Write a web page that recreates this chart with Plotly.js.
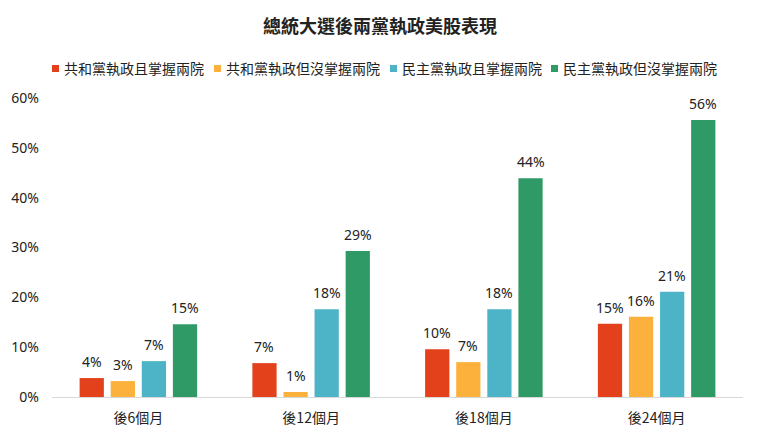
<!DOCTYPE html>
<html>
<head>
<meta charset="utf-8">
<script src="https://cdn.plot.ly/plotly-3.0.1.min.js"></script>
<style>html,body{margin:0;padding:0;background:#fff;}#chart{width:760px;height:441px;}</style>
</head>
<body>
<div id="chart"></div>
<script>
const categories = ['後6個月', '後12個月', '後18個月', '後24個月'];
const seriesNames = ['共和黨執政且掌握兩院', '共和黨執政但沒掌握兩院', '民主黨執政且掌握兩院', '民主黨執政但沒掌握兩院'];
const repBoth = [3.8, 6.8, 9.6, 14.7];
const repSplit = [3.2, 1.0, 7.0, 16.1];
const demBoth = [7.2, 17.6, 17.6, 21.1];
const demSplit = [14.6, 29.3, 43.9, 55.6];
const labels = [
  ['4%', '7%', '10%', '15%'],
  ['3%', '1%', '7%', '16%'],
  ['7%', '18%', '18%', '21%'],
  ['15%', '29%', '44%', '56%']
];
const yTickVals = [0, 10, 20, 30, 40, 50, 60];
const yTickText = ['0%', '10%', '20%', '30%', '40%', '50%', '60%'];
const colors = ['#E2411B', '#FBB13B', '#4DB4C8', '#2F9A66'];

const allValues = [repBoth, repSplit, demBoth, demSplit];
const FONT = '"Noto Sans", "Noto Sans CJK TC", sans-serif';
const CJK = '"Noto Sans CJK TC", "Noto Sans", sans-serif';

// plot area geometry (pixels) used to place the custom legend
const M = {l: 52, r: 17, t: 98, b: 44};
const W = 760, H = 441;
const pw = W - M.l - M.r, ph = H - M.t - M.b;
const px2x = p => (p - M.l) / pw;
const py2y = p => (H - M.b - p) / ph;

const traces = allValues.map((vals, i) => ({
  type: 'bar',
  name: seriesNames[i],
  x: categories,
  y: vals,
  marker: {color: colors[i]},
  hoverinfo: 'none',
  showlegend: false
}));

const slot = 31.2;
const annotations = [];
allValues.forEach((vals, i) => {
  vals.forEach((v, j) => {
    annotations.push({
      x: categories[j], y: v, xref: 'x', yref: 'y',
      text: labels[i][j], showarrow: false,
      yanchor: 'bottom', yshift: 5, xshift: (i - 1.5) * slot,
      font: {family: FONT, size: 14, color: '#222'}
    });
  });
});

// legend (custom, to match the reference spacing)
const legSquareX = [52, 214, 390, 551];
const legY = 68.5;
const shapes = [];
seriesNames.forEach((name, i) => {
  shapes.push({
    type: 'rect', xref: 'paper', yref: 'paper',
    x0: px2x(legSquareX[i]), x1: px2x(legSquareX[i] + 7),
    y0: py2y(legY + 3.5), y1: py2y(legY - 3.5),
    fillcolor: colors[i], line: {width: 0}
  });
  annotations.push({
    xref: 'paper', yref: 'paper', x: px2x(legSquareX[i] + 10), y: py2y(legY),
    xanchor: 'left', yanchor: 'middle', showarrow: false, text: name,
    font: {family: CJK, size: 14, color: '#222'}
  });
});

const layout = {
  width: W, height: H,
  margin: M,
  paper_bgcolor: '#fff', plot_bgcolor: '#fff',
  font: {family: FONT, size: 14, color: '#222'},
  title: {text: '總統大選後兩黨執政美股表現', x: 0.5, xanchor: 'center', y: 0.94, yanchor: 'middle',
          font: {family: CJK, size: 18, color: '#222', weight: 700}},
  barmode: 'group', bargap: 0.28, bargroupgap: 0.22,
  showlegend: false,
  xaxis: {type: 'category', showline: true, linecolor: '#d9d9d9', linewidth: 1, ticks: '',
          showgrid: false, ticklabelstandoff: 8,
          tickfont: {family: CJK, size: 14, color: '#222'}, fixedrange: true},
  yaxis: {range: [0, 60], tickvals: yTickVals, ticktext: yTickText, showgrid: false, zeroline: false,
          showline: false, ticks: '', ticklabelstandoff: 12, tickfont: {size: 14, color: '#222'}, fixedrange: true},
  shapes: shapes,
  annotations: annotations
};

Plotly.newPlot('chart', traces, layout, {displayModeBar: false, staticPlot: true});
</script>
</body>
</html>
